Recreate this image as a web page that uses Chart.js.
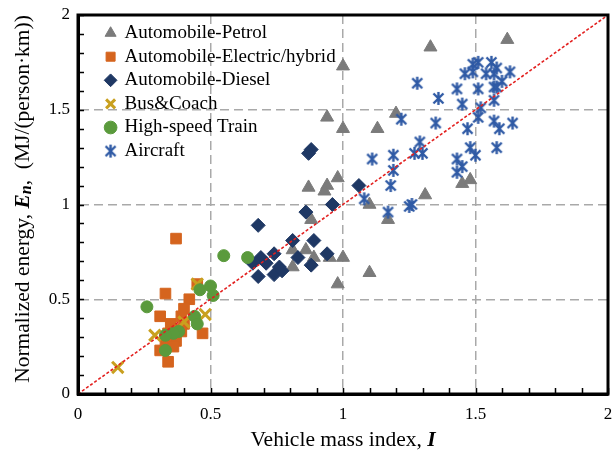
<!DOCTYPE html>
<html>
<head>
<meta charset="utf-8">
<script src="https://cdn.jsdelivr.net/npm/chart.js@4.4.0/dist/chart.umd.min.js"></script>
<style>
  html, body { margin: 0; padding: 0; background: #fff; }
  #wrap { width: 614px; height: 450px; }
</style>
</head>
<body>
<div id="wrap"><canvas id="EnergyChart" width="614" height="450"></canvas></div>
<script>
// Vehicle mass index (I) and normalized energy (En) per mode

const petrolI = [1.33, 1.62, 1.00, 0.94, 1.00, 1.13, 1.20, 0.87, 0.94, 0.98, 0.93, 0.88, 0.81, 0.86, 0.89, 0.81, 0.95, 1.00, 0.98, 1.10, 1.10, 1.17, 1.31, 1.45, 1.48];
const petrolE = [1.83, 1.87, 1.73, 1.46, 1.40, 1.40, 1.48, 1.09, 1.10, 1.14, 1.07, 0.92, 0.76, 0.76, 0.72, 0.67, 0.72, 0.72, 0.58, 0.64, 1.00, 0.92, 1.05, 1.11, 1.13];

const electricI = [0.37, 0.45, 0.33, 0.42, 0.40, 0.39, 0.31, 0.40, 0.35, 0.37, 0.34, 0.39, 0.47, 0.33, 0.37, 0.31, 0.34, 0.36];
const electricE = [0.82, 0.58, 0.53, 0.50, 0.45, 0.41, 0.41, 0.37, 0.37, 0.34, 0.32, 0.33, 0.32, 0.28, 0.28, 0.23, 0.17, 0.25];

const dieselI = [0.88, 0.87, 0.96, 0.86, 0.68, 0.81, 0.89, 0.74, 0.69, 0.66, 0.83, 0.94, 0.76, 0.88, 0.68, 0.74, 0.77, 1.06, 0.71];
const dieselE = [1.29, 1.27, 1.00, 0.96, 0.89, 0.81, 0.81, 0.74, 0.72, 0.69, 0.72, 0.74, 0.67, 0.68, 0.62, 0.63, 0.65, 1.10, 0.69];

const busI = [0.15, 0.29, 0.40, 0.48, 0.45];
const busE = [0.14, 0.31, 0.38, 0.42, 0.58];

const trainI = [0.55, 0.64, 0.46, 0.50, 0.51, 0.26, 0.44, 0.45, 0.38, 0.36, 0.33, 0.33];
const trainE = [0.73, 0.72, 0.55, 0.57, 0.52, 0.46, 0.41, 0.37, 0.33, 0.32, 0.31, 0.23];

const aircraftI = [1.28, 1.36, 1.43, 1.45, 1.51, 1.52, 1.51, 1.22, 1.35, 1.47, 1.57, 1.59, 1.64, 1.58, 1.29, 1.27, 1.30, 1.19, 1.11, 1.19, 1.18, 1.48, 1.50, 1.43, 1.45, 1.43, 1.46, 1.49, 1.51, 1.49, 1.54, 1.56, 1.58, 1.57, 1.63, 1.60, 1.57, 1.58, 1.57, 1.08, 1.17, 1.25, 1.26];
const aircraftE = [1.64, 1.56, 1.61, 1.53, 1.61, 1.51, 1.46, 1.45, 1.43, 1.40, 1.44, 1.40, 1.43, 1.30, 1.33, 1.27, 1.27, 1.26, 1.24, 1.18, 1.10, 1.30, 1.26, 1.24, 1.20, 1.17, 1.69, 1.74, 1.75, 1.70, 1.69, 1.75, 1.72, 1.69, 1.70, 1.65, 1.62, 1.62, 1.55, 1.03, 0.96, 0.99, 1.00];

// y = x reference line
const refI = [0, 2];
const refE = [0, 2];

const axisMin = 0;
const axisMax = 2;

function pairs(xs, ys) {
  return xs.map((x, i) => ({ x: x, y: ys[i] }));
}

// asterisk marker (X plus vertical bar)
function starMarker(color) {
  const c = document.createElement('canvas');
  c.width = 15;
  c.height = 15;
  const g = c.getContext('2d');
  g.strokeStyle = color;
  g.lineWidth = 2.4;
  g.beginPath();
  g.moveTo(2.5, 2.5); g.lineTo(12.5, 12.5);
  g.moveTo(12.5, 2.5); g.lineTo(2.5, 12.5);
  g.moveTo(7.5, 1); g.lineTo(7.5, 14);
  g.stroke();
  return c;
}

const serif = 'Liberation Serif';

function isHalf(v) {
  return Math.abs(v * 2 - Math.round(v * 2)) < 1e-6;
}

function drawRuns(ctx, runs, cx, cy) {
  let total = 0;
  runs.forEach(r => { ctx.font = r[1]; total += ctx.measureText(r[0]).width; });
  let x = cx - total / 2;
  runs.forEach(r => {
    ctx.font = r[1];
    ctx.fillText(r[0], x, cy + (r[2] || 0));
    x += ctx.measureText(r[0]).width;
  });
}

const frameAndTitles = {
  id: 'frameAndTitles',
  afterLayout(chart) {
    // legend sits in the upper-left corner of the plot
    chart.legend.left += 23.5;
    chart.legend.top += 19;
  },
  afterDraw(chart) {
    const ctx = chart.ctx;
    const a = chart.chartArea;
    const xs = chart.scales.x;
    const ys = chart.scales.y;
    ctx.save();
    ctx.strokeStyle = '#000';
    ctx.lineWidth = 1.5;
    ctx.beginPath();
    xs.ticks.forEach(t => {
      const px = Math.round(xs.getPixelForValue(t.value)) + 0.5;
      ctx.moveTo(px, a.bottom);
      ctx.lineTo(px, a.bottom - 6);
    });
    ys.ticks.forEach(t => {
      const py = Math.round(ys.getPixelForValue(t.value)) + 0.5;
      ctx.moveTo(a.left, py);
      ctx.lineTo(a.left + 6, py);
    });
    ctx.stroke();
    ctx.lineWidth = 3;
    ctx.strokeRect(a.left, a.top, a.right - a.left, a.bottom - a.top);

    ctx.fillStyle = '#000';
    ctx.textBaseline = 'middle';
    const reg = '21.5px "' + serif + '"';
    drawRuns(ctx, [
      ['Vehicle mass index, ', reg],
      ['I', 'italic bold 21.5px "' + serif + '"']
    ], (a.left + a.right) / 2, 440);

    ctx.translate(23, 199);
    ctx.rotate(-Math.PI / 2);
    drawRuns(ctx, [
      ['Normalized energy, ', reg],
      ['E', 'italic bold 21.5px "' + serif + '"'],
      ['n', 'italic bold 16px "' + serif + '"', 4],
      [',  (MJ/(person\u00b7km))', reg]
    ], 0, 0);
    ctx.restore();
  }
};

const dataEnergy = {
  datasets: [{
    label: 'Automobile-Petrol',
    data: pairs(petrolI, petrolE),
    pointStyle: 'triangle',
    pointRadius: 7.5,
    backgroundColor: '#7b7b7b',
    borderColor: '#7b7b7b',
    borderWidth: 1,
    order: 6
  }, {
    label: 'Automobile-Electric/hybrid',
    data: pairs(electricI, electricE),
    pointStyle: 'rect',
    pointRadius: 7.5,
    backgroundColor: '#d5641e',
    borderColor: '#d5641e',
    borderWidth: 1,
    order: 5
  }, {
    label: 'Automobile-Diesel',
    data: pairs(dieselI, dieselE),
    pointStyle: 'rectRot',
    pointRadius: 7,
    backgroundColor: '#1f3864',
    borderColor: '#1f3864',
    borderWidth: 1,
    order: 4
  }, {
    label: 'Bus&Coach',
    data: pairs(busI, busE),
    pointStyle: 'crossRot',
    pointRadius: 8,
    backgroundColor: '#c9a01f',
    borderColor: '#c9a01f',
    borderWidth: 3,
    order: 3
  }, {
    label: 'High-speed Train',
    data: pairs(trainI, trainE),
    pointStyle: 'circle',
    pointRadius: 6,
    backgroundColor: '#5a9a3c',
    borderColor: '#5a9a3c',
    borderWidth: 1,
    order: 2
  }, {
    label: 'Aircraft',
    data: pairs(aircraftI, aircraftE),
    pointStyle: starMarker('#2f5aa5'),
    pointRadius: 7,
    backgroundColor: '#2f5aa5',
    borderColor: '#2f5aa5',
    borderWidth: 2,
    order: 1
  }, {
    type: 'line',
    label: 'y = x',
    data: pairs(refI, refE),
    borderColor: '#e3201f',
    borderWidth: 1.6,
    borderDash: [3, 2],
    pointRadius: 0,
    fill: false,
    order: 0
  }]
};

const tickFont = { family: serif, size: 17 };

const Eoptions = {
  responsive: false,
  animation: false,
  devicePixelRatio: 1,
  layout: { autoPadding: false, padding: { top: 15, right: 6, left: 0, bottom: 0 } },
  plugins: {
    tooltip: { enabled: false },
    legend: {
      position: 'chartArea',
      align: 'start',
      labels: {
        usePointStyle: true,
        boxWidth: 9,
        boxHeight: 9,
        padding: 4.6,
        color: '#000',
        font: { family: serif, size: 19, lineHeight: 1.2 },
        filter: item => item.text !== 'y = x',
        sort: (a, b) => a.datasetIndex - b.datasetIndex
      }
    }
  },
  scales: {
    x: {
      type: 'linear',
      min: axisMin,
      max: axisMax,
      afterFit(scale) {
        scale.height = 56;
        scale.paddingLeft = 0;
        scale.paddingRight = 0;
      },
      ticks: {
        stepSize: 0.1,
        autoSkip: false,
        maxRotation: 0,
        padding: 10,
        color: '#000',
        font: tickFont,
        callback: v => isHalf(v) ? String(Math.round(v * 2) / 2) : ''
      },
      grid: {
        drawTicks: false,
        lineWidth: 1.5,
        color: ctx => (ctx.tick && isHalf(ctx.tick.value) && ctx.tick.value > 0.01 && ctx.tick.value < 1.99) ? '#a9a9a9' : 'rgba(0,0,0,0)'
      },
      border: { display: true, color: '#000', width: 3, dash: [9, 5] }
    },
    y: {
      type: 'linear',
      min: axisMin,
      max: axisMax,
      afterFit(scale) {
        scale.width = 78;
        scale.paddingTop = 0;
        scale.paddingBottom = 0;
      },
      ticks: {
        stepSize: 0.1,
        autoSkip: false,
        padding: 8,
        color: '#000',
        font: tickFont,
        callback: v => isHalf(v) ? String(Math.round(v * 2) / 2) : ''
      },
      grid: {
        drawTicks: false,
        lineWidth: 1.5,
        color: ctx => (ctx.tick && isHalf(ctx.tick.value) && ctx.tick.value > 0.01 && ctx.tick.value < 1.99) ? '#a9a9a9' : 'rgba(0,0,0,0)'
      },
      border: { display: true, color: '#000', width: 3, dash: [9, 5] }
    }
  }
};

const configEnergy = {
  type: 'scatter',
  data: dataEnergy,
  options: Eoptions,
  plugins: [frameAndTitles]
};

const Energy_Chart = new Chart(
  document.getElementById('EnergyChart'),
  configEnergy
);
</script>
</body>
</html>
